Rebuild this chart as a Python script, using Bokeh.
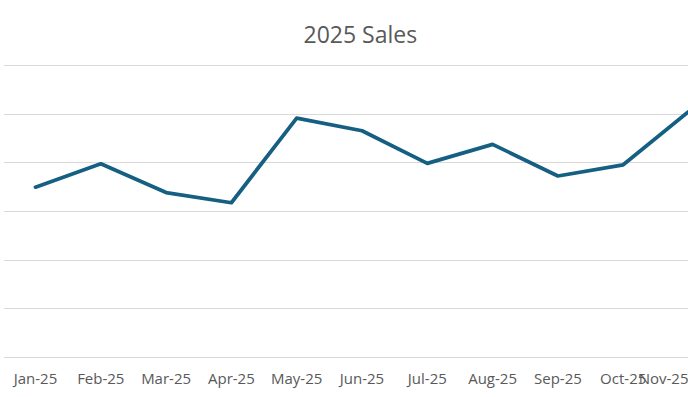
from bokeh.plotting import figure
from bokeh.models import Range1d, FixedTicker
from bokeh.embed import file_html
from bokeh.resources import INLINE

title_text = "2025 Sales"
months = ["Jan-25", "Feb-25", "Mar-25", "Apr-25", "May-25", "Jun-25",
          "Jul-25", "Aug-25", "Sep-25", "Oct-25", "Nov-25"]
sales = [3500, 3980, 3390, 3180, 4920, 4660, 3990, 4380, 3730, 3960, 5050]
y_ticks = [0, 1000, 2000, 3000, 4000, 5000, 6000]

xs = list(range(len(months)))

p = figure(width=688, height=397, output_backend="svg", toolbar_location=None,
           x_range=Range1d(-0.49, 10.0), y_range=Range1d(-21, 6021),
           min_border_left=3, min_border_right=0, min_border_bottom=39,
           min_border_top=64)
p.outline_line_color = None
p.background_fill_color = "white"
p.border_fill_color = "white"

p.title.text = title_text
p.title.align = "left"
p.title.offset = 300
p.title.text_font = "Open Sans"
p.title.text_font_size = "23px"
p.title.text_font_style = "normal"
p.title.text_color = "#595959"
p.title.standoff = 30

p.line(xs, sales, line_color="#156082", line_width=3.75, line_join="round", line_cap="round")

p.yaxis.visible = False
p.ygrid.ticker = FixedTicker(ticks=y_ticks)
p.ygrid.grid_line_color = "#D9D9D9"
p.ygrid.grid_line_width = 1
p.xgrid.grid_line_color = None

xa = p.xaxis[0]
xa.ticker = FixedTicker(ticks=xs)
xa.major_label_overrides = {i: m for i, m in enumerate(months)}
xa.major_tick_line_color = None
xa.minor_tick_line_color = None
xa.axis_line_color = None
xa.major_label_text_font = "Open Sans"
xa.major_label_text_font_size = "15px"
xa.major_label_text_color = "#595959"
xa.major_label_standoff = 3

open("out.html", "w").write(file_html(p, INLINE))
